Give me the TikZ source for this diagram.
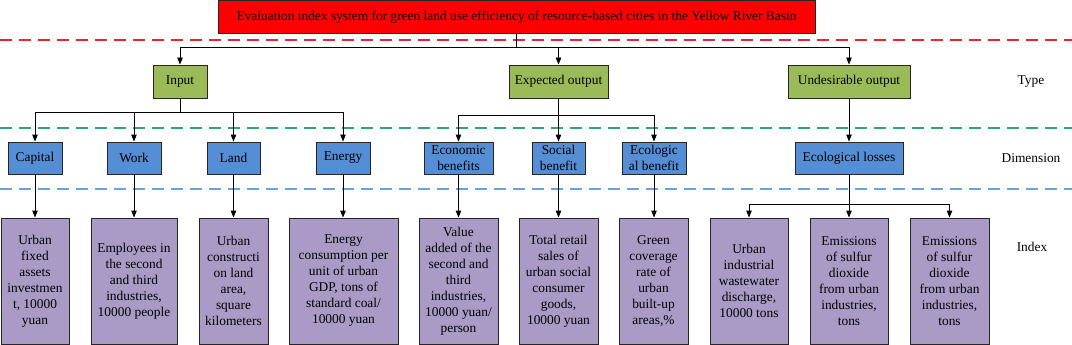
\documentclass[tikz,border=0pt]{standalone}
\usepackage{fontspec}
\setmainfont{Liberation Serif}
\usetikzlibrary{arrows.meta}
\definecolor{titlered}{HTML}{FF0000}
\definecolor{typegreen}{HTML}{9BBB59}
\definecolor{dimblue}{HTML}{558ED5}
\definecolor{idxpurple}{HTML}{A99BC5}
\definecolor{dashred}{HTML}{E8242C}
\definecolor{dashgreen}{HTML}{2FA37A}
\definecolor{dashblue}{HTML}{6A9FE0}
\definecolor{edge}{HTML}{262626}
\begin{document}
\begin{tikzpicture}[x=1pt,y=-1pt,
  basebox/.style={draw=edge, line width=0.9pt, inner sep=1pt, align=center, text=black,
    font=\fontsize{13.4}{16}\selectfont},
  titlebox/.style={basebox, fill=titlered, minimum height=33pt},
  typebox/.style={basebox, fill=typegreen, minimum height=33pt},
  dimbox/.style={basebox, fill=dimblue, minimum height=32pt, font=\fontsize{13.4}{16.5}\selectfont},
  idxbox/.style={basebox, fill=idxpurple, minimum height=126pt},
  lbl/.style={font=\fontsize{13.4}{16}\selectfont, inner sep=0pt},
  arr/.style={draw=black, line width=0.9pt, -{Triangle[length=7pt,width=5.5pt]}},
  ln/.style={draw=black, line width=0.9pt},
  sep/.style={line width=1.1pt, dash pattern=on 12pt off 7pt}
]
\useasboundingbox (0,0) rectangle (1072,345);

% separators
\draw[sep, dashred] (0,40) -- (1072,40);
\draw[sep, dashgreen] (0,128) -- (1072,128);
\draw[sep, dashblue] (0,189) -- (1072,189);

% title
\node[titlebox, minimum width=597pt] (title) at (516.5,17) {Evaluation index system for green land use efficiency of resource-based cities in the Yellow River Basin};

% types
\node[typebox, minimum width=54pt] (input) at (180,81.5) {Input};
\node[typebox, minimum width=99pt] (expected) at (558.5,81.5) {Expected output};
\node[typebox, minimum width=122pt] (undesired) at (849,81.5) {Undesirable output};

% dimensions
\node[dimbox, minimum width=54pt] (capital) at (35,158) {Capital};
\node[dimbox, minimum width=54pt] (work) at (134,158) {Work};
\node[dimbox, minimum width=53pt] (land) at (233.5,158) {Land};
\node[dimbox, minimum width=54pt] (energy) at (343,158) {Energy};
\node[dimbox, minimum width=69pt] (econ) at (458.5,158) {Economic\\benefits};
\node[dimbox, minimum width=53pt] (social) at (558.5,158) {Social\\benefit};
\node[dimbox, minimum width=64pt] (ecoben) at (654,158) {Ecologic\\al benefit};
\node[dimbox, minimum width=108pt] (ecoloss) at (849,158) {Ecological losses};

% indices
\node[idxbox, minimum width=68pt] (i1) at (35,281) {Urban\\fixed\\assets\\investmen\\t, 10000\\yuan};
\node[idxbox, minimum width=86pt] (i2) at (134,281) {Employees in\\the second\\and third\\industries,\\10000 people};
\node[idxbox, minimum width=69pt] (i3) at (233.5,281) {Urban\\constructi\\on land\\area,\\square\\kilometers};
\node[idxbox, minimum width=109pt] (i4) at (343.5,281) {Energy\\consumption per\\unit of urban\\GDP, tons of\\standard coal/\\10000 yuan};
\node[idxbox, minimum width=79pt] (i5) at (458.5,281) {Value\\added of the\\second and\\third\\industries,\\10000 yuan/\\person};
\node[idxbox, minimum width=79pt] (i6) at (558.5,281) {Total retail\\sales of\\urban social\\consumer\\goods,\\10000 yuan};
\node[idxbox, minimum width=69pt] (i7) at (653.5,281) {Green\\coverage\\rate of\\urban\\built-up\\areas,\%};
\node[idxbox, minimum width=78pt] (i8) at (749,281) {Urban\\industrial\\wastewater\\discharge,\\10000 tons};
\node[idxbox, minimum width=78pt] (i9) at (849,281) {Emissions\\of sulfur\\dioxide\\from urban\\industries,\\tons};
\node[idxbox, minimum width=79pt] (i10) at (949.5,281) {Emissions\\of sulfur\\dioxide\\from urban\\industries,\\tons};

% level labels
\node[lbl] (ltype) at (1031,82) {Type};
\node[lbl] (ldim) at (1031,158) {Dimension};
\node[lbl] (lidx) at (1032,247) {Index};

% junction coordinates
\coordinate (j0) at (517,47);
\coordinate (j1) at (180,112);
\coordinate (j2) at (558.5,115);
\coordinate (j3) at (849,204);

% title -> types
\draw[ln] (title.south) -- (title.south |- j0);
\draw[arr] (j0) -| (input.north);
\draw[arr] (j0) -| (expected.north);
\draw[arr] (j0) -| (undesired.north);

% input -> dims
\draw[ln] (input.south) -- (j1);
\draw[arr] (j1) -| (capital.north);
\draw[arr] (j1) -| (work.north);
\draw[arr] (j1) -| (land.north);
\draw[arr] (j1) -| (energy.north);

% expected -> dims
\draw[ln] (expected.south) -- (j2);
\draw[arr] (j2) -| (econ.north);
\draw[arr] (j2) -- (social.north);
\draw[arr] (j2) -| (ecoben.north);

% undesired -> dim
\draw[arr] (undesired.south) -- (ecoloss.north);

% dims -> indices
\draw[arr] (capital.south) -- (i1.north);
\draw[arr] (work.south) -- (i2.north);
\draw[arr] (land.south) -- (i3.north);
\draw[arr] (energy.south) -- (energy.south |- i4.north);
\draw[arr] (econ.south) -- (i5.north);
\draw[arr] (social.south) -- (i6.north);
\draw[arr] (ecoben.south) -- (ecoben.south |- i7.north);
\draw[ln] (ecoloss.south) -- (j3);
\draw[arr] (j3) -| (i8.north);
\draw[arr] (j3) -- (i9.north);
\draw[arr] (j3) -| (i10.north);
\end{tikzpicture}
\end{document}
